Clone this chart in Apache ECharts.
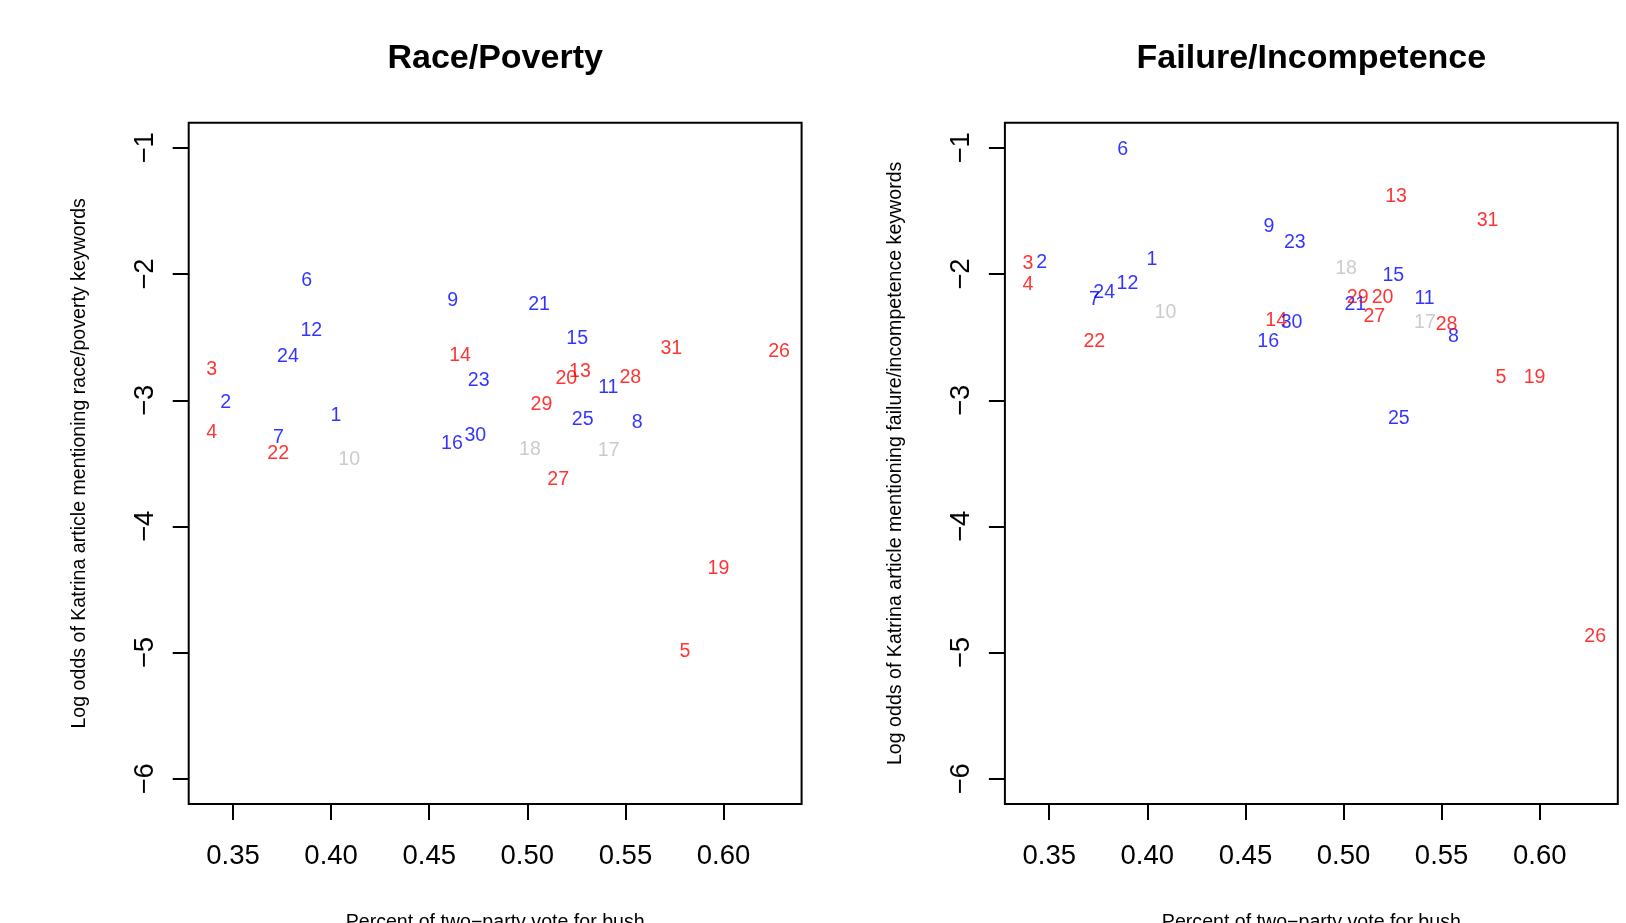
<!DOCTYPE html>
<html>
<head>
<meta charset="utf-8">
<script src="https://cdn.jsdelivr.net/npm/echarts@6/dist/echarts.min.js"></script>
<style>
  html, body { margin: 0; padding: 0; background: #fff; }
  #chart { width: 1626px; height: 923px; }
</style>
</head>
<body>
<div id="chart"></div>
<script>
// ---- data ----
const stateIds = ['1','2','3','4','5','6','7','8','9','10','11','12','13','14','15','16','17','18','19','20','21','22','23','24','25','26','27','28','29','30','31'];
const voteBush = [0.4024, 0.3462, 0.3391, 0.3391, 0.5803, 0.3875, 0.3731, 0.5560, 0.4620, 0.4092,
                  0.5413, 0.3899, 0.5268, 0.4657, 0.5254, 0.4616, 0.5415, 0.5013, 0.5974, 0.5199,
                  0.5060, 0.3730, 0.4752, 0.3780, 0.5282, 0.6283, 0.5157, 0.5525, 0.5072, 0.4735, 0.5734];
const racePoverty = [-3.114, -3.005, -2.748, -3.246, -4.984, -2.041, -3.283, -3.167, -2.200, -3.464,
                     -2.889, -2.438, -2.762, -2.637, -2.502, -3.336, -3.389, -3.384, -4.325, -2.815,
                     -2.232, -3.416, -2.836, -2.642, -3.140, -2.603, -3.623, -2.809, -3.026, -3.273, -2.584];
const failureIncompetence = [-1.879, -1.901, -1.909, -2.073, -2.807, -1.000, -2.192, -2.489, -1.612, -2.293,
                             -2.184, -2.065, -1.376, -2.356, -2.001, -2.523, -2.372, -1.946, -2.809, -2.174,
                             -2.232, -2.523, -1.742, -2.134, -3.138, -4.865, -2.325, -2.391, -2.174, -2.372, -1.564];
const stateGroup = ['blue','blue','red','red','red','blue','blue','blue','blue','gray',
                    'blue','blue','red','red','blue','blue','gray','gray','red','red',
                    'blue','red','blue','blue','blue','red','red','red','red','blue','red'];
const xTicks = [0.35, 0.40, 0.45, 0.50, 0.55, 0.60];
const yTicks = [-6, -5, -4, -3, -2, -1];
const panelTitles = ['Race/Poverty', 'Failure/Incompetence'];
const yTitles = ['Log odds of Katrina article mentioning race/poverty keywords',
                 'Log odds of Katrina article mentioning failure/incompetence keywords'];
const xTitle = 'Percent of two\u2212party vote for bush';

// ---- styling ----
const FONT = "'Liberation Sans', Arial, Helvetica, sans-serif";
const colorMap = { red: '#FF0000', blue: '#0000FF', gray: '#BEBEBE' };
const panels = [
  { left: 188.7, top: 122.7, width: 612.9, height: 681.3 },
  { left: 1004.9, top: 122.7, width: 612.9, height: 681.3 }
];
const X_MIN = 0.3274, X_MAX = 0.6398, Y_MIN = -6.2, Y_MAX = -0.8;

const chart = echarts.init(document.getElementById('chart'), null, { renderer: 'canvas' });

function makeSeries(idx, yVals) {
  return {
    type: 'scatter',
    xAxisIndex: idx,
    yAxisIndex: idx,
    symbol: 'circle',
    symbolSize: 0,
    silent: true,
    animation: false,
    data: stateIds.map((id, i) => ({
      name: id,
      value: [voteBush[i], yVals[i]],
      label: { color: colorMap[stateGroup[i]] }
    })),
    label: {
      show: true,
      position: 'inside',
      offset: [0, 1.2],
      formatter: p => p.name,
      fontFamily: FONT,
      fontSize: 19.6,
      align: 'center',
      verticalAlign: 'middle'
    }
  };
}

const minus = v => String(v).replace('-', '\u2212');

const option = {
  backgroundColor: '#ffffff',
  animation: false,
  grid: panels.map(p => ({
    left: p.left, top: p.top, width: p.width, height: p.height,
    show: true, borderColor: '#000', borderWidth: 2, backgroundColor: 'transparent',
    containLabel: false
  })),
  xAxis: panels.map((p, i) => ({
    type: 'value', gridIndex: i, min: X_MIN, max: X_MAX,
    splitLine: { show: false },
    axisLine: { show: false },
    axisTick: { show: true, inside: false, length: 16, customValues: xTicks,
                lineStyle: { color: '#000', width: 2 } },
    axisLabel: { show: true, customValues: xTicks, margin: 52,
                 verticalAlign: 'middle',
                 formatter: v => Number(v).toFixed(2),
                 color: '#000', fontFamily: FONT, fontSize: 27.5 }
  })),
  yAxis: panels.map((p, i) => ({
    type: 'value', gridIndex: i, min: Y_MIN, max: Y_MAX,
    splitLine: { show: false },
    axisLine: { show: false },
    axisTick: { show: true, inside: false, length: 16, customValues: yTicks,
                lineStyle: { color: '#000', width: 2 } },
    axisLabel: { show: true, customValues: yTicks, margin: 43, rotate: 90,
                 align: 'center', verticalAlign: 'middle',
                 formatter: v => minus(v),
                 color: '#000', fontFamily: FONT, fontSize: 27.5 }
  })),
  series: [makeSeries(0, racePoverty), makeSeries(1, failureIncompetence)],
  graphic: [].concat(...panels.map((p, i) => {
    const cx = p.left + p.width / 2;
    const cy = p.top + p.height / 2;
    return [
      { type: 'text', x: cx, y: 58.5, silent: true,
        style: { text: panelTitles[i], fill: '#000', font: 'bold 34px ' + FONT,
                 align: 'center', verticalAlign: 'middle' } },
      { type: 'text', x: p.left - 109, y: cy, rotation: Math.PI / 2, silent: true,
        style: { text: yTitles[i], fill: '#000', font: '19.6px ' + FONT,
                 align: 'center', verticalAlign: 'middle' } },
      { type: 'text', x: cx, y: p.top + p.height + 118.5, silent: true,
        style: { text: xTitle, fill: '#000', font: '19.6px ' + FONT,
                 align: 'center', verticalAlign: 'middle' } }
    ];
  }))
};

chart.setOption(option);
</script>
</body>
</html>
